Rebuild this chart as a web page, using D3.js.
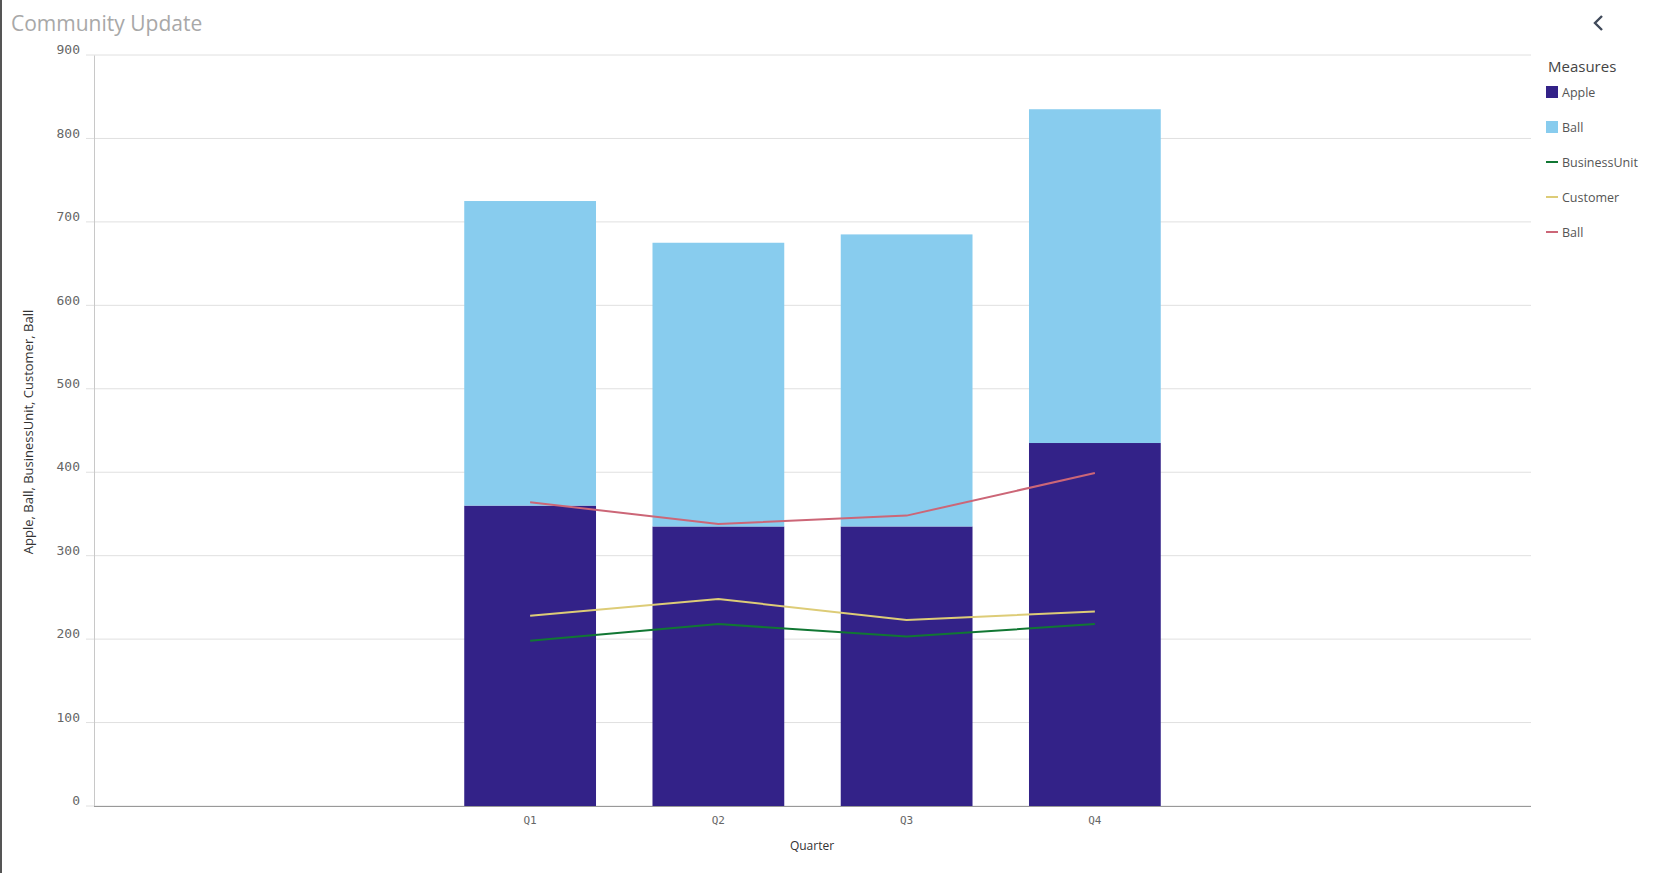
<!DOCTYPE html>
<html><head><meta charset="utf-8">
<script src="https://cdn.jsdelivr.net/npm/d3@7"></script>
<style>body{margin:0;background:#fff;}svg{display:block;}</style>
</head><body>
<script>
const quarters = ["Q1","Q2","Q3","Q4"];
const apple = [360, 335, 335, 435];
const ballBar = [365, 340, 350, 400];
const businessUnit = [198, 218, 203, 218];
const customer = [228, 248, 223, 233];
const ballLine = [364, 338, 348, 399];
const yTicks = [0,100,200,300,400,500,600,700,800,900];
const legendItems = [
  {name:"Apple", type:"rect", color:"#332288"},
  {name:"Ball", type:"rect", color:"#88ccee"},
  {name:"BusinessUnit", type:"line", color:"#117733"},
  {name:"Customer", type:"line", color:"#ddcc77"},
  {name:"Ball", type:"line", color:"#cc6677"}
];

(function(){
const W=1670,H=873;
const svg=d3.select("body").append("svg").attr("width",W).attr("height",H);
svg.append("rect").attr("x",0).attr("y",0).attr("width",2).attr("height",H).attr("fill","#555");
svg.append("text").attr("x",11).attr("y",31).text("Community Update")
  .attr("font-family","Open Sans, sans-serif").attr("font-size",21).attr("fill","#a8a8a8");
svg.append("path").attr("d","M1602,16 L1595,23 L1602,30").attr("fill","none").attr("stroke","#404a5a").attr("stroke-width",2.4);

const pLeft=94,pRight=1531,pTop=55,pBottom=806;
const y=d3.scaleLinear().domain([0,900]).range([pBottom,pTop]);
const x=d3.scaleBand().domain(quarters).range([436,1189]).paddingInner(0.3).paddingOuter(0.15);

svg.append("g").selectAll("line").data(yTicks).join("line")
  .attr("x1",pLeft-8).attr("x2",pRight).attr("y1",d=>y(d)).attr("y2",d=>y(d))
  .attr("stroke","#e0e0e0").attr("stroke-width",1);
const ya=svg.append("g").attr("transform",`translate(${pLeft},0)`)
  .call(d3.axisLeft(y).tickValues(yTicks).tickSize(0).tickPadding(14));
ya.select(".domain").attr("stroke","#c8c8c8");
ya.selectAll("text").attr("font-family","DejaVu Sans Mono, monospace").attr("font-size",13).attr("fill","#666").attr("dy","-0.1em");

svg.append("g").selectAll("rect").data(quarters).join("rect")
  .attr("x",d=>x(d)).attr("width",x.bandwidth())
  .attr("y",(d,i)=>y(apple[i])).attr("height",(d,i)=>y(0)-y(apple[i])).attr("fill","#332288");
svg.append("g").selectAll("rect").data(quarters).join("rect")
  .attr("x",d=>x(d)).attr("width",x.bandwidth())
  .attr("y",(d,i)=>y(apple[i]+ballBar[i])).attr("height",(d,i)=>y(apple[i])-y(apple[i]+ballBar[i])).attr("fill","#88ccee");

const xa=svg.append("g").attr("transform",`translate(0,${pBottom})`)
  .call(d3.axisBottom(x).tickSize(0).tickPadding(10));
xa.select(".domain").remove();
svg.append("line").attr("x1",pLeft).attr("x2",pRight).attr("y1",pBottom+0.5).attr("y2",pBottom+0.5).attr("stroke","#999");
xa.selectAll("text").attr("font-family","DejaVu Sans Mono, monospace").attr("font-size",11).attr("fill","#666");

const cx=q=>x(q)+x.bandwidth()/2;
[[businessUnit,"#117733"],[customer,"#ddcc77"],[ballLine,"#cc6677"]].forEach(([vals,c])=>{
  svg.append("path").datum(vals).attr("fill","none").attr("stroke",c).attr("stroke-width",2)
    .attr("d",d3.line().x((d,i)=>cx(quarters[i])).y(d=>y(d)));
});

svg.append("text").attr("transform",`translate(33,432) rotate(-90)`).attr("text-anchor","middle")
  .text("Apple, Ball, BusinessUnit, Customer, Ball").attr("font-family","Open Sans, sans-serif").attr("font-size",13).attr("fill","#333");
svg.append("text").attr("x",812).attr("y",850).attr("text-anchor","middle")
  .text("Quarter").attr("font-family","Open Sans, sans-serif").attr("font-size",12).attr("fill","#333");

svg.append("text").attr("x",1548).attr("y",72).text("Measures")
  .attr("font-family","Open Sans, sans-serif").attr("font-size",15).attr("fill","#444");
const lg=svg.append("g").selectAll("g").data(legendItems).join("g")
  .attr("transform",(d,i)=>`translate(1546,${92+i*35})`);
lg.each(function(d){
  const g=d3.select(this);
  if(d.type==="rect") g.append("rect").attr("x",0).attr("y",-6).attr("width",12).attr("height",12).attr("fill",d.color);
  else g.append("rect").attr("x",0).attr("y",-1).attr("width",12).attr("height",2).attr("fill",d.color);
  g.append("text").attr("x",16).attr("y",5).text(d.name).attr("font-family","Open Sans, sans-serif").attr("font-size",12.5).attr("fill","#555");
});
})();
</script>
</body></html>
